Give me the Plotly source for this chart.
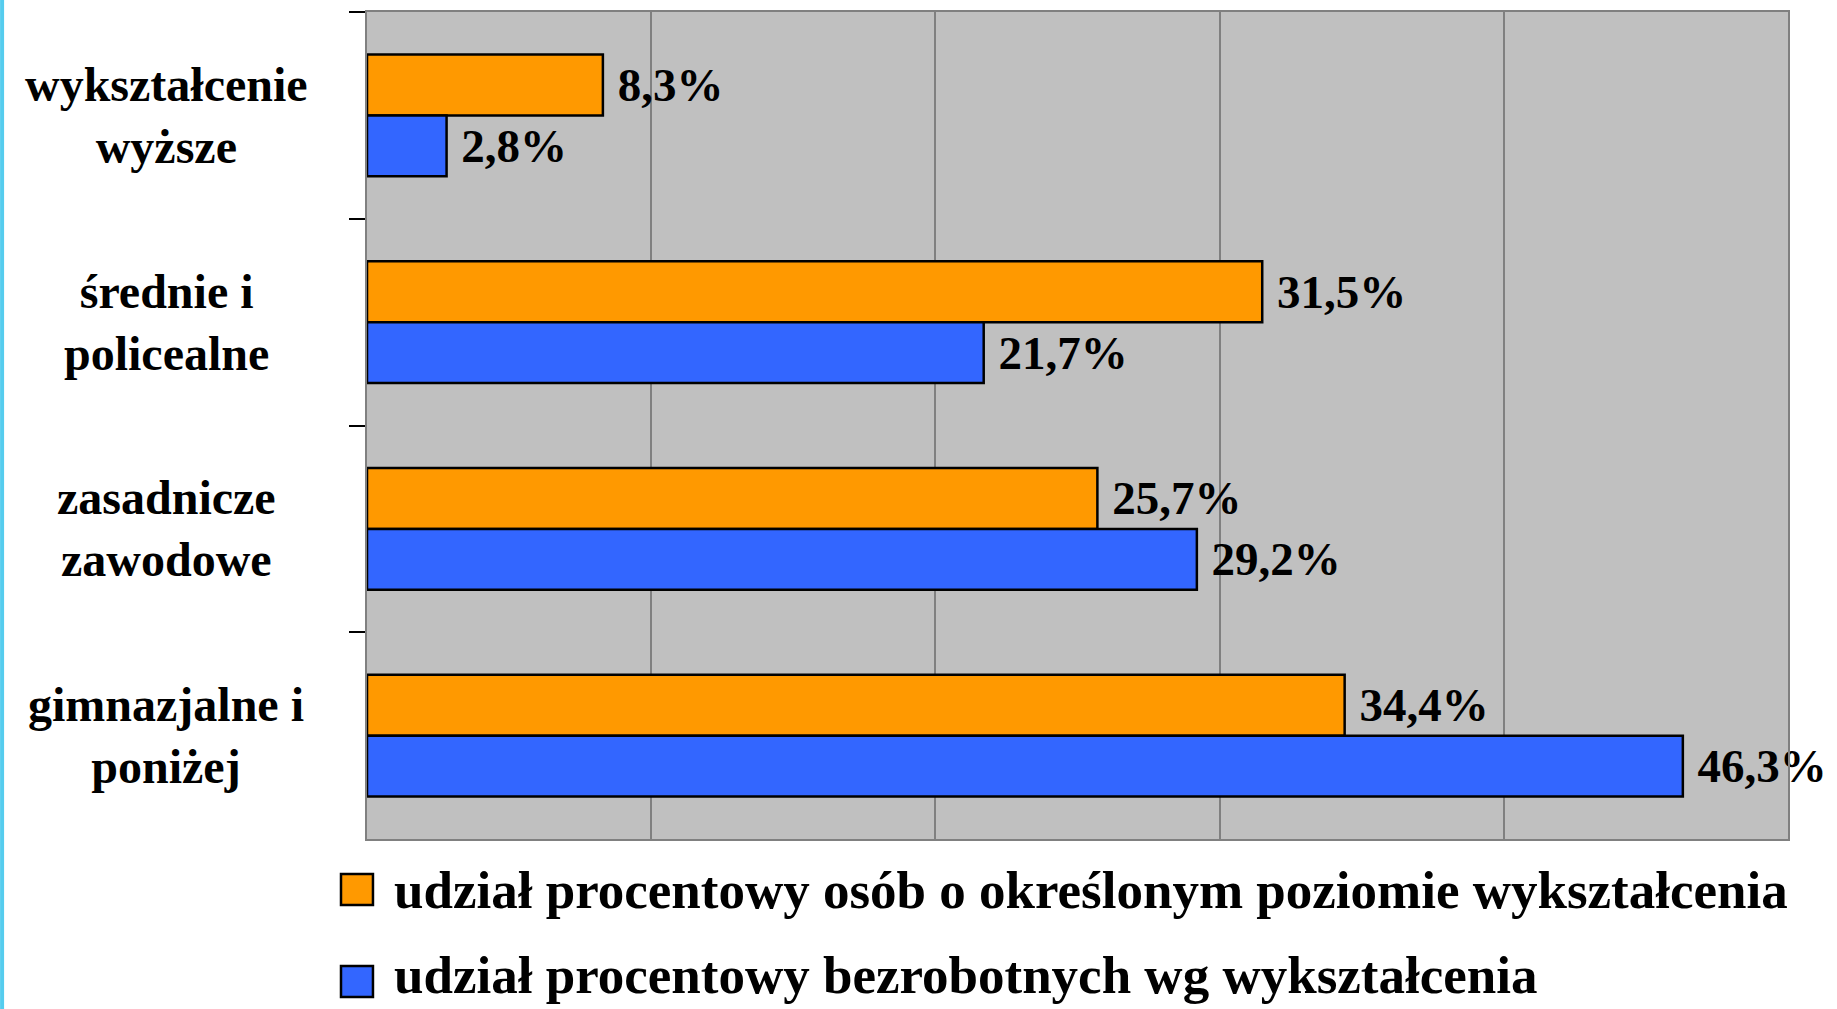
import plotly.graph_objects as go

categories = ["wykształcenie<br>wyższe", "średnie i<br>policealne", "zasadnicze<br>zawodowe", "gimnazjalne i<br>poniżej"]
series_names = ["udział procentowy osób o określonym poziomie wykształcenia",
                "udział procentowy bezrobotnych wg wykształcenia"]
share_population = [8.3, 31.5, 25.7, 34.4]
share_unemployed = [2.8, 21.7, 29.2, 46.3]
colors = ["#FF9900", "#3366FF"]

def fmt(v):
    return "\u00a0" + ("%.1f" % v).replace(".", ",") + "%"

FONT = "Liberation Serif"

fig = go.Figure()
for i, (name, vals) in enumerate(zip(series_names, [share_population, share_unemployed])):
    fig.add_trace(go.Bar(
        y=categories, x=vals, orientation="h", name=name,
        marker=dict(color=colors[i], line=dict(color="black", width=2.5)),
        text=[fmt(v) for v in vals], textposition="outside", constraintext="none",
        textfont=dict(family=FONT, size=47, color="black", weight="bold"),
        cliponaxis=False, showlegend=False,
    ))

for c in categories:
    fig.add_annotation(x=-0.1414, xref="paper", y=c, yref="y", text=c,
                       showarrow=False, align="center", xanchor="center", yanchor="middle",
                       font=dict(family=FONT, size=48, color="black", weight="bold"))

# custom legend (large squares like the original)
legend_rows = [(-0.0423, -0.0798, -0.0617), (-0.1536, -0.1911, -0.1650)]
for (y0, y1, yc), name, col in zip(legend_rows, series_names, colors):
    fig.add_shape(type="rect", xref="paper", yref="paper", x0=-0.0183, x1=0.0042, y0=y1, y1=y0,
                  fillcolor=col, line=dict(color="black", width=2.5))
    fig.add_annotation(x=0.0176, xref="paper", y=yc, yref="paper", text=name, showarrow=False,
                       xanchor="left", yanchor="middle",
                       font=dict(family=FONT, size=53, color="black", weight="bold"))

fig.add_shape(type="line", xref="paper", yref="paper", x0=-0.2568, x1=-0.2568, y0=-0.25, y1=1.05,
              line=dict(color="#55CCEE", width=4))

fig.update_layout(
    width=1837, height=1009,
    margin=dict(l=367, r=49, t=12, b=170, autoexpand=False),
    plot_bgcolor="#C0C0C0", paper_bgcolor="white",
    barmode="group", bargap=0.41, bargroupgap=0,
    font=dict(family=FONT, color="black"),
    showlegend=False,
)
fig.update_xaxes(range=[0, 50], dtick=10, showgrid=True, gridcolor="#808080", gridwidth=1.5,
                 showticklabels=False, showline=True, linecolor="#808080", linewidth=2, mirror=True,
                 zeroline=False)
fig.update_yaxes(autorange="reversed", showticklabels=False, ticks="outside", tickson="boundaries",
                 ticklen=16, tickcolor="black", tickwidth=1.5, showline=True, linecolor="#808080",
                 linewidth=2, mirror=True, showgrid=False)

fig.write_html("out.html", config={"displayModeBar": False},
               post_script="document.body.style.margin='0';document.body.style.overflow='hidden';")
